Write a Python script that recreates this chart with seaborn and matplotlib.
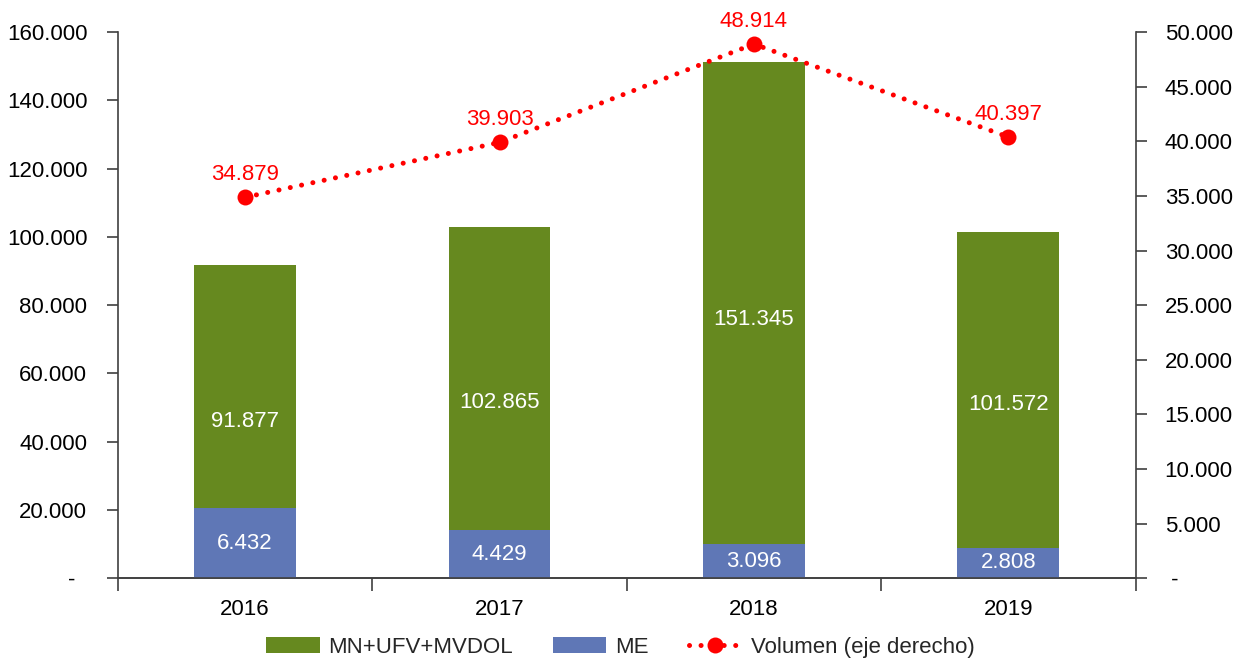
import numpy as np
import matplotlib
matplotlib.use("Agg")
import matplotlib.pyplot as plt
from matplotlib.patches import Patch
from matplotlib.lines import Line2D
from matplotlib.ticker import FixedLocator, FuncFormatter
import seaborn as sns

# data
years = ["2016", "2017", "2018", "2019"]
mn_ufv = [91877, 102865, 151345, 101572]
me = [6432, 4429, 3096, 2808]
volumen = [34879, 39903, 48914, 40397]

green = "#66891f"
blue = "#5f77b6"
red = "#ff0000"
dots = (0, (0.01, 2.3))
fs = 16

sns.set_style("white")
plt.rcParams["font.family"] = ["Liberation Sans", "DejaVu Sans"]


def miles(v, pad_zero):
    if v == 0:
        return pad_zero
    return f"{int(v):,}".replace(",", ".")


fig, ax = plt.subplots(figsize=(12.41, 6.70), dpi=100)
fig.subplots_adjust(left=0.095, right=0.915, top=0.952, bottom=0.137)

# green bars on left axis
sns.barplot(x=years, y=mn_ufv, color=green, width=0.4, saturation=1,
            linewidth=0, ax=ax)
ax.bar_label(ax.containers[0], labels=[miles(v, "") for v in mn_ufv],
             label_type="center", color="white", fontsize=fs)

# blue bars and line on right axis
ax2 = ax.twinx()
sns.barplot(x=years, y=me, color=blue, width=0.4, saturation=1,
            linewidth=0, ax=ax2)
ax2.bar_label(ax2.containers[0], labels=[miles(v, "") for v in me],
              label_type="center", color="white", fontsize=fs)

sns.pointplot(x=years, y=volumen, color=red, markers="o", errorbar=None, ax=ax2)
for ln in ax2.lines:
    ln.set_linestyle(dots)
    ln.set_linewidth(3.6)
    ln.set_dash_capstyle("round")
    ln.set_markersize(11.5)
    ln.set_markeredgewidth(0)
    ln.set_zorder(3)

for i, v in enumerate(volumen):
    ax2.annotate(miles(v, ""), (i, v), xytext=(0, 9), textcoords="offset points",
                 ha="center", va="bottom", color=red, fontsize=fs)

# axes
for a in (ax, ax2):
    a.set_xlim(-0.5, 3.5)
    a.set_xlabel("")
    a.set_ylabel("")
    a.spines["top"].set_visible(False)
    for s in a.spines.values():
        s.set_color("#404040")
        s.set_linewidth(1.2)

ax.set_ylim(0, 160000)
ax.set_yticks(np.arange(0, 160001, 20000))
ax.yaxis.set_major_formatter(FuncFormatter(lambda v, p: miles(v, "-  ")))
ax.spines["right"].set_visible(False)
ax.tick_params(axis="y", direction="out", length=8, width=1.2, color="#404040",
               labelsize=fs, pad=14, labelcolor="black")

ax2.set_ylim(0, 50000)
ax2.set_yticks(np.arange(0, 50001, 5000))
ax2.yaxis.set_major_formatter(FuncFormatter(lambda v, p: miles(v, " -")))
ax2.spines["left"].set_visible(False)
ax2.tick_params(axis="y", direction="out", length=8, width=1.2, color="#404040",
                labelsize=fs, pad=13, labelcolor="black")

ax.set_xticks(range(len(years)))
ax.set_xticklabels(years)
ax.xaxis.set_minor_locator(FixedLocator(np.arange(-0.5, 4, 1.0)))
ax.tick_params(axis="x", which="major", length=0, labelsize=fs, pad=15,
               labelcolor="black")
ax.tick_params(axis="x", which="minor", direction="out", length=9, width=1.2,
               color="#404040", bottom=True)

handles = [
    Patch(facecolor=green, edgecolor="none"),
    Patch(facecolor=blue, edgecolor="none"),
    Line2D([], [], color=red, linestyle=dots, linewidth=3.6, marker="o",
           markersize=11.5, markeredgewidth=0, dash_capstyle="round"),
]
labels = ["MN+UFV+MVDOL", "ME", "Volumen (eje derecho)"]
fig.legend(handles, labels, loc="lower center", bbox_to_anchor=(0.5, -0.012),
           ncol=3, frameon=False, fontsize=fs, handlelength=2.4,
           handletextpad=0.4, columnspacing=1.8)

fig.savefig("out.png", dpi=100)
